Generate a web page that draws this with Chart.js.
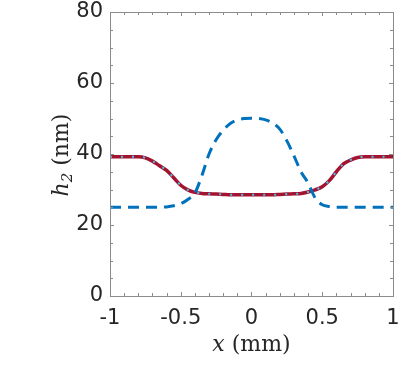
<!DOCTYPE html>
<html>
<head>
<meta charset="utf-8">
<script src="https://cdn.jsdelivr.net/npm/chart.js@4"></script>
<style>
  html, body { margin: 0; padding: 0; background: #fff; }
  #wrap { width: 407px; height: 370px; }
</style>
</head>
<body>
<div id="wrap"><canvas id="canvas1" width="407" height="370"></canvas></div>
<script>
// x positions (mm)
var xValues = [-1, -0.9, -0.8, -0.75, -0.7, -0.65, -0.6, -0.55, -0.5, -0.45, -0.4, -0.35, -0.3, -0.25, -0.2, -0.15, -0.1, -0.05,
               0, 0.05, 0.1, 0.15, 0.2, 0.25, 0.3, 0.35, 0.4, 0.45, 0.5, 0.55, 0.6, 0.65, 0.7, 0.75, 0.8, 0.9, 1];
// blue dashed curve h2 (nm)
var bumpValues = [25, 25, 25, 25, 25, 25, 25.1, 25.4, 26, 27.2, 29, 34, 40, 44, 46.7, 48.6, 49.6, 50,
                  50.1, 50, 49.6, 48.7, 47, 43.7, 39.5, 35, 31.8, 27.6, 25.7, 25.2, 25, 25, 25, 25, 25, 25, 25];
// red solid curve h2 (nm)
var wellValues = [39.2, 39.2, 39.2, 38.9, 38, 36.7, 35.4, 33.3, 31.2, 29.9, 29.2, 28.9, 28.8, 28.7, 28.6, 28.5, 28.5, 28.5,
                  28.5, 28.5, 28.5, 28.5, 28.6, 28.7, 28.8, 28.9, 29.3, 29.9, 30.8, 32.5, 35, 37.2, 38.3, 39, 39.2, 39.2, 39.2];
var xTicks = [-1, -0.5, 0, 0.5, 1];
var xTickLabels = ['-1', '-0.5', '0', '0.5', '1'];
var yTicks = [0, 20, 40, 60, 80];

function pts(ys){
    return xValues.map(function(x, i){ return {x: x, y: ys[i]}; });
}

var boxPlugin = {
    id: 'box',
    afterDraw: function(chart){
        var ctx = chart.ctx, a = chart.chartArea;
        var xs = chart.scales.x, ys = chart.scales.y;
        ctx.save();
        ctx.strokeStyle = '#8c8c8c';
        ctx.lineWidth = 1;
        ctx.strokeRect(a.left + 0.5, a.top + 0.5, a.right - a.left, a.bottom - a.top);
        ctx.beginPath();
        for (var v = -1; v <= 1.0001; v += 0.1){
            var px = Math.round(xs.getPixelForValue(v)) + 0.5;
            var len = Math.abs(v * 2 - Math.round(v * 2)) < 0.01 ? 4 : 3;
            ctx.moveTo(px, a.bottom); ctx.lineTo(px, a.bottom - len);
            ctx.moveTo(px, a.top); ctx.lineTo(px, a.top + len);
        }
        for (var w = 0; w <= 80; w += 5){
            var py = Math.round(ys.getPixelForValue(w)) + 0.5;
            var l2 = w % 20 === 0 ? 4 : 3;
            ctx.moveTo(a.left, py); ctx.lineTo(a.left + l2, py);
            ctx.moveTo(a.right, py); ctx.lineTo(a.right - l2, py);
        }
        ctx.stroke();

        // axis labels
        ctx.fillStyle = '#262626';
        ctx.textBaseline = 'alphabetic';
        var it = 'italic 22px "DejaVu Serif"', up = '22px "DejaVu Serif"', sub = 'italic 15px "DejaVu Serif"';
        // x label
        ctx.font = it; var w1 = ctx.measureText('x').width;
        ctx.font = up; var w2 = ctx.measureText(' (mm)').width;
        var cx = (a.left + a.right) / 2, x0 = cx - (w1 + w2) / 2;
        ctx.font = it; ctx.fillText('x', x0, 351);
        ctx.font = up; ctx.fillText(' (mm)', x0 + w1, 351);
        // y label
        ctx.translate(68, 155);
        ctx.rotate(-Math.PI / 2);
        ctx.font = it; var h1 = ctx.measureText('h').width;
        ctx.font = sub; var h2 = ctx.measureText('2').width;
        ctx.font = up; var h3 = ctx.measureText(' (nm)').width;
        var y0 = -(h1 + h2 + h3) / 2;
        ctx.font = it; ctx.fillText('h', y0, 0);
        ctx.font = sub; ctx.fillText('2', y0 + h1, 4);
        ctx.font = up; ctx.fillText(' (nm)', y0 + h1 + h2, 0);
        ctx.restore();
    }
};

const ctx = document.getElementById('canvas1').getContext('2d');
const myChart = new Chart(ctx, {
    type: 'line',
    data: {
        datasets: [{
            data: pts(wellValues),
            borderColor: '#4DBEEE',
            borderWidth: 2,
            borderDash: [2, 9],
            pointRadius: 0,
            cubicInterpolationMode: 'monotone'
        }, {
            data: pts(bumpValues),
            borderColor: '#0072BD',
            borderWidth: 3,
            borderDash: [11, 7],
            pointRadius: 0,
            cubicInterpolationMode: 'monotone'
        }, {
            data: pts(wellValues),
            borderColor: '#A2142F',
            borderWidth: 3.5,
            pointRadius: 0,
            cubicInterpolationMode: 'monotone'
        }]
    },
    options: {
        responsive: false,
        animation: false,
        events: [],
        layout: { padding: { top: 12, right: 14, left: 0, bottom: 0 } },
        plugins: { legend: { display: false }, tooltip: { enabled: false } },
        scales: {
            x: {
                type: 'linear',
                min: -1, max: 1,
                afterBuildTicks: function(s){ s.ticks = xTicks.map(function(v){ return {value: v}; }); },
                afterFit: function(s){ s.height = 74; s.paddingLeft = 0; s.paddingRight = 0; },
                grid: { display: false, drawTicks: false },
                border: { display: false },
                ticks: {
                    color: '#262626', padding: 10, maxRotation: 0,
                    font: { family: 'DejaVu Sans', size: 21 },
                    callback: function(v, i){ return xTickLabels[i]; }
                }
            },
            y: {
                min: 0, max: 80,
                afterBuildTicks: function(s){ s.ticks = yTicks.map(function(v){ return {value: v}; }); },
                afterFit: function(s){ s.width = 110; s.paddingTop = 0; s.paddingBottom = 0; },
                grid: { display: false, drawTicks: false },
                border: { display: false },
                ticks: { color: '#262626', padding: 7, font: { family: 'DejaVu Sans', size: 21 } }
            }
        }
    },
    plugins: [boxPlugin]
});
</script>
</body>
</html>
